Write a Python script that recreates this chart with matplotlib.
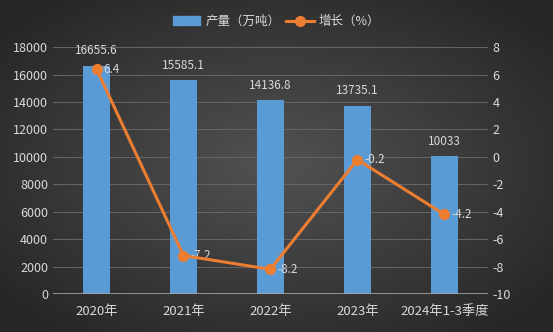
import numpy as np
import matplotlib
matplotlib.use('Agg')
import matplotlib.pyplot as plt
from matplotlib.colors import LinearSegmentedColormap
from matplotlib.patches import Patch
from matplotlib.lines import Line2D

plt.rcParams['font.family'] = ['Noto Sans CJK SC', 'DejaVu Sans']
plt.rcParams['axes.unicode_minus'] = False

categories = ['2020年', '2021年', '2022年', '2023年', '2024年1-3季度']
output = [16655.6, 15585.1, 14136.8, 13735.1, 10033]
growth = [6.4, -7.2, -8.2, -0.2, -4.2]

txt = '#d9d9d9'
fig = plt.figure(figsize=(5.53, 3.32), dpi=100)

# 背景渐变
bg = fig.add_axes([0, 0, 1, 1])
yy, xx = np.mgrid[-1:1:200j, -1:1:300j]
r = np.sqrt(xx**2 + yy**2)
cm = LinearSegmentedColormap.from_list('bg', ['#262626', '#525252'])
bg.imshow(-r, cmap=cm, vmin=-1.3, vmax=0, aspect='auto', extent=[0, 1, 0, 1])
bg.axis('off')

ax = fig.add_axes([0.096, 0.1145, 0.786, 0.7435])
ax.patch.set_alpha(0)
x = np.arange(len(categories))
ax.bar(x, output, width=0.31, color='#5b9bd5', zorder=2)
for xi, v in zip(x, output):
    ax.annotate(f'{v:g}', (xi, v), xytext=(0, 6), textcoords='offset points',
                ha='center', va='bottom', color=txt, fontsize=8.5)
ax.set_ylim(0, 18000)
ax.set_yticks(range(0, 18001, 2000))
ax.set_xlim(-0.5, len(categories) - 0.5)
ax.set_xticks(x)
ax.set_xticklabels(categories)
ax.grid(axis='y', color='#666666', lw=0.7, zorder=0)
for s in ax.spines.values():
    s.set_visible(False)
ax.axhline(0, color='#a6a6a6', lw=1.2, zorder=3)
ax.tick_params(colors=txt, labelsize=9, length=0)
ax.tick_params(axis='x', pad=8, labelsize=9.5)

ax2 = ax.twinx()
ax2.plot(x, growth, color='#ed7d31', lw=2.2, marker='o', ms=7, zorder=4)
for xi, v in zip(x, growth):
    ax2.annotate(f'{v:g}', (xi, v), xytext=(5, 0), textcoords='offset points',
                 ha='left', va='center', color=txt, fontsize=8.5)
ax2.set_ylim(-10, 8)
ax2.set_yticks(range(-10, 9, 2))
for s in ax2.spines.values():
    s.set_visible(False)
ax2.tick_params(colors=txt, labelsize=9, length=0)

handles = [Patch(color='#5b9bd5'), Line2D([], [], color='#ed7d31', lw=2.2, marker='o', ms=7)]
fig.legend(handles, ['产量（万吨）', '增长（%）'], loc='center', bbox_to_anchor=(0.5, 0.935),
           ncol=2, frameon=False, fontsize=9, labelcolor=txt, handlelength=2.2,
           columnspacing=0.5, handletextpad=0.4)

fig.savefig('out.png', dpi=100)
